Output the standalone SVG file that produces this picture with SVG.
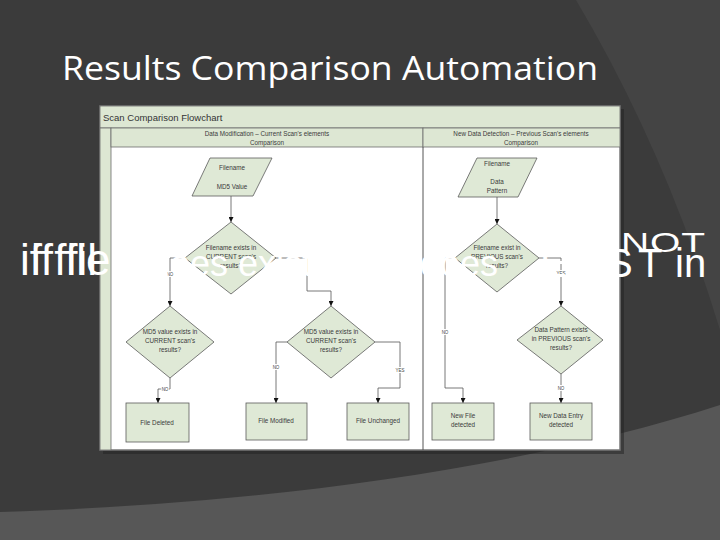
<svg xmlns="http://www.w3.org/2000/svg" width="720" height="540" viewBox="0 0 720 540">
<defs>
<marker id="ah" viewBox="0 0 6 6" refX="6" refY="3" markerWidth="5" markerHeight="5" markerUnits="userSpaceOnUse" orient="auto">
<path d="M0,0 L6,3 L0,6 Z" fill="#111"/>
</marker>
</defs>
<style>
.hdr{fill:#dde7d3;stroke:#6b6b6b;stroke-width:0.8}
.shape{fill:#dfe9d6;stroke:#5a5a5a;stroke-width:0.8}
.t{font-family:"Liberation Sans",Arial,sans-serif;font-size:6.3px;fill:#3a3a3a;text-anchor:middle}
.lbl{font-family:"Liberation Sans",Arial,sans-serif;font-size:4.5px;fill:#444;text-anchor:middle;stroke:#fff;stroke-width:2;paint-order:stroke}
.conn{fill:none;stroke:#555;stroke-width:0.8;marker-end:url(#ah)}
.ov{font-family:"Liberation Sans",Arial,sans-serif;fill:#fff}
</style>
<rect width="720" height="540" fill="#3b3b3b"/>
<path d="M576,0 Q665,150 720,330 L720,0 Z" fill="#444444"/>
<path d="M0,512 C250,505 520,470 720,405 L720,540 L0,540 Z" fill="#575757"/>
<text x="62" y="80" font-family="'Open Sans','Liberation Sans',sans-serif" font-size="32" fill="#fff" textLength="536" lengthAdjust="spacingAndGlyphs">Results Comparison Automation</text>

<rect x="103" y="109" width="521" height="345" fill="#222" opacity="0.5"/>
<g id="frame">
<rect x="100" y="106" width="520" height="344" fill="#fff" stroke="#777" stroke-width="1.5"/>
<rect x="100" y="106" width="520" height="22" class="hdr"/>
<text x="103" y="121" font-family="'Liberation Sans',Arial,sans-serif" font-size="9.5" fill="#333">Scan Comparison Flowchart</text>
<rect x="100" y="128" width="11" height="322" class="hdr"/>
<rect x="111" y="128" width="312" height="19" class="hdr"/>
<rect x="423" y="128" width="197" height="19" class="hdr"/>
<line x1="423" y1="147" x2="423" y2="450" stroke="#555" stroke-width="1"/>
<text class="t" x="267" y="136">Data Modification – Current Scan's elements</text>
<text class="t" x="267" y="144.5">Comparison</text>
<text class="t" x="521" y="136">New Data Detection – Previous Scan's elements</text>
<text class="t" x="521" y="144.5">Comparison</text>
</g>

<g id="connectors">
<path class="conn" d="M231,196 V222"/>
<path class="conn" d="M185,258 H170 V306"/>
<path class="conn" d="M276,258 H307 V291 H331 V306"/>
<path class="conn" d="M170,378 V389 H158 V403"/>
<path class="conn" d="M287,342 H276 V403"/>
<path class="conn" d="M375,342 H400 V388 H378 V403"/>
<path class="conn" d="M497,197 V224"/>
<path class="conn" d="M455,258 H445 V388 H463 V403"/>
<path class="conn" d="M539,258 H561 V306"/>
<path class="conn" d="M561,374 V403"/>
<text class="lbl" x="170" y="276">NO</text>
<text class="lbl" x="165" y="391">NO</text>
<text class="lbl" x="276" y="369">NO</text>
<text class="lbl" x="400" y="372">YES</text>
<text class="lbl" x="445" y="334">NO</text>
<text class="lbl" x="561" y="275">YES</text>
<text class="lbl" x="561" y="390">NO</text>
</g>

<g id="input-md5">
<polygon class="shape" points="210,158 272,158 253,196 192,196"/>
<text class="t" x="232" y="170">Filename</text>
<text class="t" x="232" y="189">MD5 Value</text>
</g>
<g id="dec-filename-current">
<polygon class="shape" points="231,222 276,258 231,294 185,258"/>
<text class="t" x="231" y="250">Filename exists in</text>
<text class="t" x="231" y="259">CURRENT scan's</text>
<text class="t" x="231" y="268">results?</text>
</g>
<g id="dec-md5-left">
<polygon class="shape" points="170,306 214,342 170,378 126,342"/>
<text class="t" x="170" y="334">MD5 value exists in</text>
<text class="t" x="170" y="343">CURRENT scan's</text>
<text class="t" x="170" y="352">results?</text>
</g>
<g id="dec-md5-right">
<polygon class="shape" points="331,306 375,342 331,378 287,342"/>
<text class="t" x="331" y="334">MD5 value exists in</text>
<text class="t" x="331" y="343">CURRENT scan's</text>
<text class="t" x="331" y="352">results?</text>
</g>
<g id="file-deleted">
<rect class="shape" x="126" y="403" width="63" height="39"/>
<text class="t" x="157" y="425">File Deleted</text>
</g>
<g id="file-modified">
<rect class="shape" x="246" y="403" width="61" height="37"/>
<text class="t" x="276" y="423">File Modified</text>
</g>
<g id="file-unchanged">
<rect class="shape" x="347" y="403" width="62" height="37"/>
<text class="t" x="378" y="423">File Unchanged</text>
</g>
<g id="input-pattern">
<polygon class="shape" points="477,158 537,158 518,197 458,197"/>
<text class="t" x="497" y="166">Filename</text>
<text class="t" x="497" y="184">Data</text>
<text class="t" x="497" y="193">Pattern</text>
</g>
<g id="dec-filename-previous">
<polygon class="shape" points="497,224 539,258 497,292 455,258"/>
<text class="t" x="497" y="250">Filename exist in</text>
<text class="t" x="497" y="259">PREVIOUS scan's</text>
<text class="t" x="497" y="268">results?</text>
</g>
<g id="dec-pattern">
<polygon class="shape" points="561,306 603,340 561,374 517,340"/>
<text class="t" x="561" y="332">Data Pattern exists</text>
<text class="t" x="561" y="341">in PREVIOUS scan's</text>
<text class="t" x="561" y="350">results?</text>
</g>
<g id="new-file">
<rect class="shape" x="432" y="403" width="62" height="37"/>
<text class="t" x="463" y="418">New File</text>
<text class="t" x="463" y="427">detected</text>
</g>
<g id="new-entry">
<rect class="shape" x="530" y="403" width="62" height="37"/>
<text class="t" x="561" y="418">New Data Entry</text>
<text class="t" x="561" y="427">detected</text>
</g>

<g id="overlay">
<text class="ov" x="20" y="275" font-size="44">if file</text>
<text class="ov" x="31" y="275" font-size="44">if fil</text>
<text class="ov" x="150" y="276" font-size="36">does exist in</text>
<text class="ov" x="420" y="276" font-size="36">does</text>
<text class="ov" transform="translate(621,252) scale(1,0.7)" x="0" y="0" font-size="39" textLength="84">NOT</text>
<text class="ov" y="277" font-size="40"><tspan x="540">EXI</tspan><tspan x="606">S</tspan><tspan x="638">T</tspan><tspan x="675">in</tspan></text>
</g>
</svg>
